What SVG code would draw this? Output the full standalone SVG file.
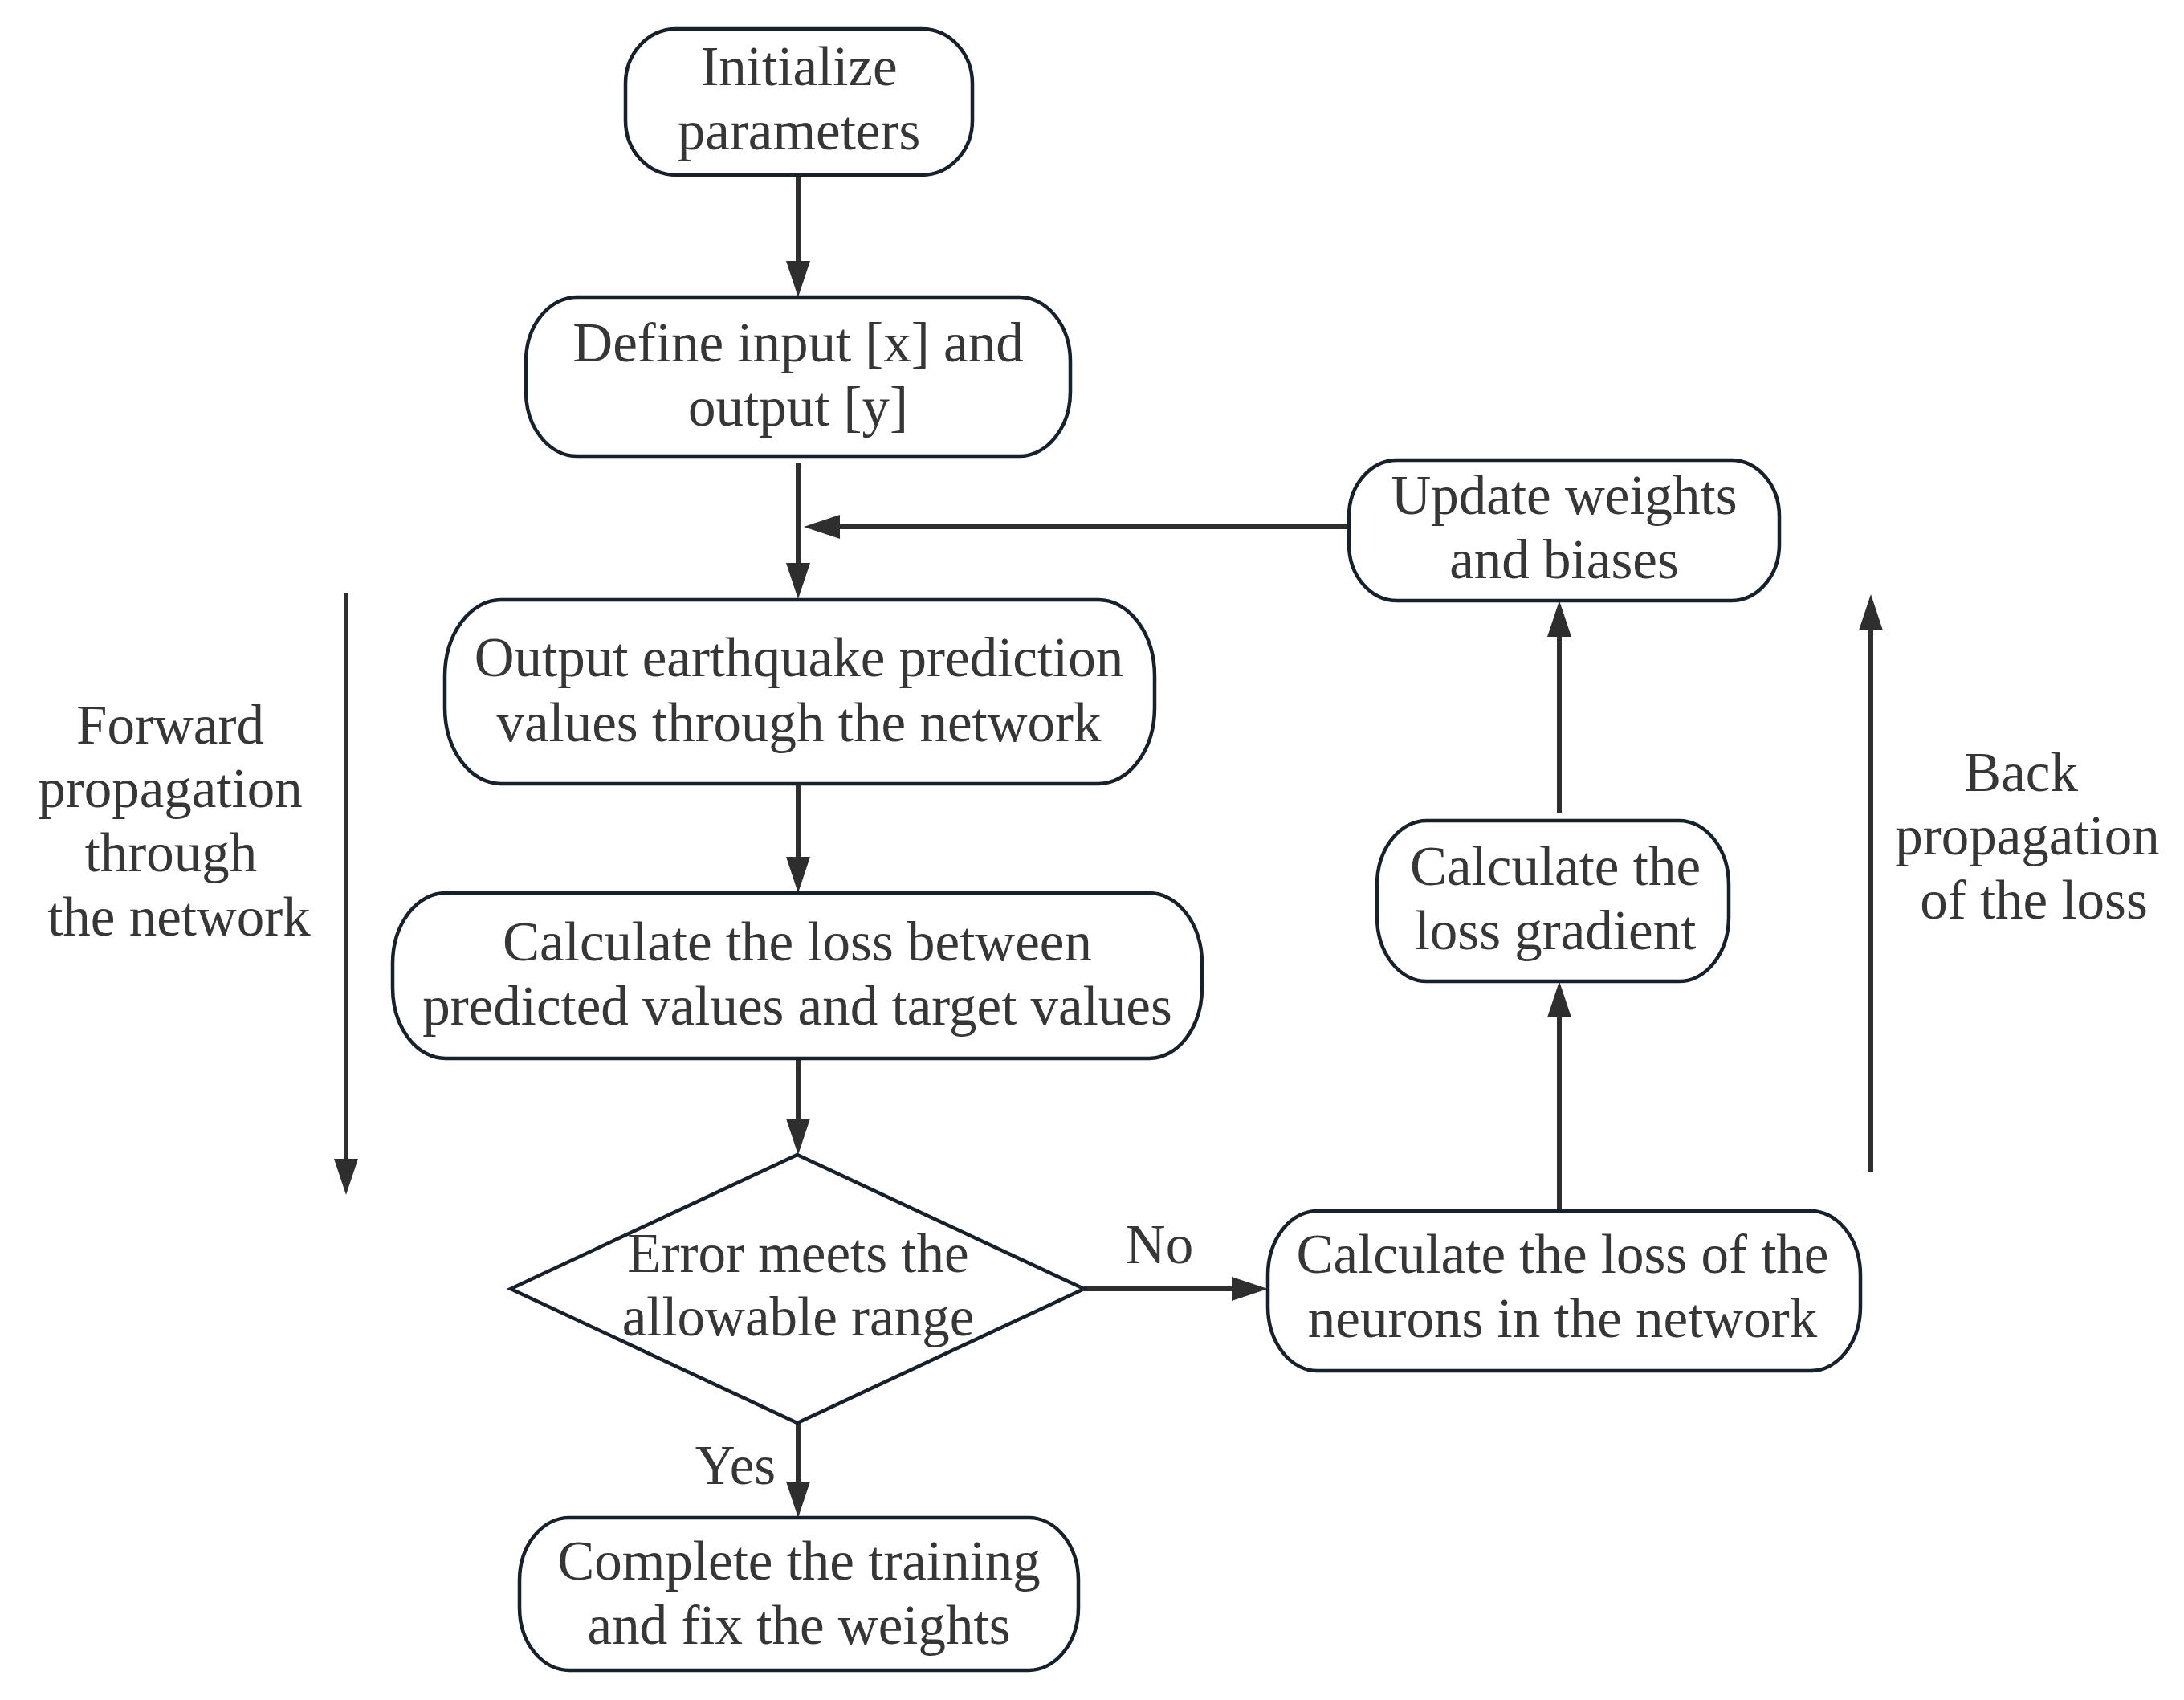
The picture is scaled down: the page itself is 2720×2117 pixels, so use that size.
<svg xmlns="http://www.w3.org/2000/svg" width="2720" height="2117" viewBox="0 0 2720 2117">
<defs>
<style>
.box{fill:#ffffff;stroke:#17212b;stroke-width:4.5}
.t{font-family:"Liberation Serif","Times New Roman",serif;font-size:69px;fill:#363636;text-anchor:middle}
.c{fill:none;stroke:#2e2e2e;stroke-width:6}
</style>
<marker id="ah" markerUnits="userSpaceOnUse" markerWidth="46" markerHeight="32" refX="1" refY="15" orient="auto" viewBox="0 0 46 30">
<path d="M0,0 L45,15 L0,30 z" fill="#2e2e2e"/>
</marker>
</defs>
<rect width="2720" height="2117" fill="#ffffff"/>

<g id="connectors">
<path class="c" d="M994,218 V326" marker-end="url(#ah)"/>
<path class="c" d="M994,577 V702" marker-end="url(#ah)"/>
<path class="c" d="M1680,656 H1045" marker-end="url(#ah)"/>
<path class="c" d="M994,976 V1068" marker-end="url(#ah)"/>
<path class="c" d="M994,1318 V1394" marker-end="url(#ah)"/>
<path class="c" d="M994,1772 V1846" marker-end="url(#ah)"/>
<path class="c" d="M1350,1605 H1535" marker-end="url(#ah)"/>
<path class="c" d="M1942,1508 V1266" marker-end="url(#ah)"/>
<path class="c" d="M1942,1012 V792" marker-end="url(#ah)"/>
<path class="c" d="M431,739 V1444" marker-end="url(#ah)"/>
<path class="c" d="M2330,1460 V784" marker-end="url(#ah)"/>
</g>

<g id="node-init">
<rect class="box" x="779" y="36" width="432" height="182" rx="63" ry="68"/>
<text class="t" x="995" y="106">Initialize</text>
<text class="t" x="995" y="186">parameters</text>
</g>

<g id="node-define">
<rect class="box" x="655" y="370" width="678" height="198" rx="64" ry="80"/>
<text class="t" x="994" y="450">Define input [x] and</text>
<text class="t" x="994" y="530">output [y]</text>
</g>

<g id="node-output">
<rect class="box" x="554" y="747" width="884" height="229" rx="70" ry="95"/>
<text class="t" x="995" y="842">Output earthquake prediction</text>
<text class="t" x="995" y="923">values through the network</text>
</g>

<g id="node-loss">
<rect class="box" x="489" y="1112" width="1008" height="206" rx="66" ry="88"/>
<text class="t" x="993" y="1196">Calculate the loss between</text>
<text class="t" x="993" y="1276">predicted values and target values</text>
</g>

<g id="node-decision">
<polygon class="box" points="993,1438 1350,1605 993,1772 636,1605"/>
<text class="t" x="994" y="1584">Error meets the</text>
<text class="t" x="994" y="1663">allowable range</text>
</g>

<g id="node-complete">
<rect class="box" x="647" y="1890" width="696" height="190" rx="62" ry="78"/>
<text class="t" x="995" y="1967">Complete the training</text>
<text class="t" x="995" y="2047">and fix the weights</text>
</g>

<g id="node-neurons">
<rect class="box" x="1579" y="1508" width="738" height="199" rx="62" ry="80"/>
<text class="t" x="1946" y="1585">Calculate the loss of the</text>
<text class="t" x="1946" y="1665">neurons in the network</text>
</g>

<g id="node-gradient">
<rect class="box" x="1715" y="1022" width="438" height="200" rx="62" ry="80"/>
<text class="t" x="1937" y="1102">Calculate the</text>
<text class="t" x="1937" y="1182">loss gradient</text>
</g>

<g id="node-update">
<rect class="box" x="1680" y="573" width="536" height="175" rx="60" ry="70"/>
<text class="t" x="1948" y="640">Update weights</text>
<text class="t" x="1948" y="720">and biases</text>
</g>

<g id="labels">
<text class="t" x="1444" y="1573">No</text>
<text class="t" x="916" y="1848">Yes</text>
<text class="t" x="212" y="926">Forward</text>
<text class="t" x="212" y="1005">propagation</text>
<text class="t" x="213" y="1085">through</text>
<text class="t" x="223" y="1165">the network</text>
<text class="t" x="2517" y="985">Back</text>
<text class="t" x="2525" y="1064">propagation</text>
<text class="t" x="2533" y="1144">of the loss</text>
</g>
</svg>
